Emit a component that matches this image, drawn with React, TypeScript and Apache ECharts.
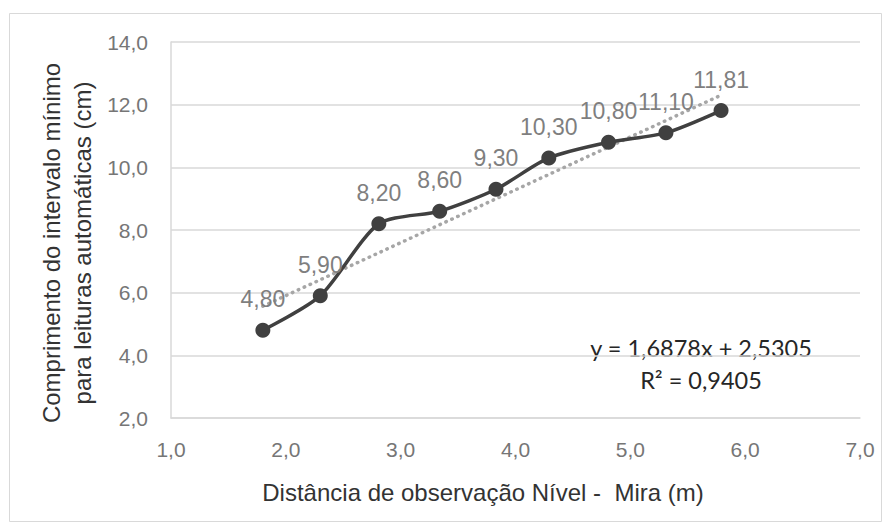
import React, { useEffect, useRef } from "react";
import * as echarts from "echarts";

const distances = [1.8, 2.3, 2.81, 3.34, 3.83, 4.29, 4.81, 5.31, 5.79];
const lengths = [4.8, 5.9, 8.2, 8.6, 9.3, 10.3, 10.8, 11.1, 11.81];
const lengthLabels = ["4,80", "5,90", "8,20", "8,60", "9,30", "10,30", "10,80", "11,10", "11,81"];
const TREND_SLOPE = 1.6878;
const TREND_INTERCEPT = 2.5305;
const equationLines = ["y = 1,6878x + 2,5305", "R² = 0,9405"];
const xAxisTitle = "Distância de observação Nível -  Mira (m)";
const yAxisTitle = ["Comprimento do intervalo mínimo", "para leituras automáticas (cm)"];

const fmt = (v: number) => v.toFixed(1).replace(".", ",");

export default function App() {
  const ref = useRef<HTMLDivElement>(null);
  useEffect(() => {
    if (!ref.current) return;
    const chart = echarts.init(ref.current, null, { renderer: "svg" });
    const xMin = Math.min(...distances);
    const xMax = Math.max(...distances);
    const trend = [
      [xMin, TREND_SLOPE * xMin + TREND_INTERCEPT],
      [xMax, TREND_SLOPE * xMax + TREND_INTERCEPT],
    ];
    const points = distances.map((d, i) => [d, lengths[i]]);
    chart.setOption({
      animation: false,
      backgroundColor: "#ffffff",
      grid: { left: 171, right: 29, top: 42, bottom: 107, containLabel: false },
      xAxis: {
        type: "value",
        min: 1,
        max: 7,
        interval: 1,
        axisLine: { show: true, lineStyle: { color: "#d9d9d9", width: 1.5 } },
        axisTick: { show: false },
        splitLine: { show: false },
        axisLabel: {
          formatter: fmt,
          color: "#767676",
          fontSize: 21,
          fontFamily: "Liberation Sans",
          margin: 21,
        },
      },
      yAxis: {
        type: "value",
        min: 2,
        max: 14,
        interval: 2,
        axisLine: { show: true, lineStyle: { color: "#d9d9d9", width: 1.5 } },
        axisTick: { show: false },
        splitLine: { show: true, lineStyle: { color: "#d9d9d9", width: 1.5 } },
        axisLabel: {
          formatter: fmt,
          color: "#767676",
          fontSize: 21,
          fontFamily: "Liberation Sans",
          margin: 23,
        },
      },
      graphic: [
        {
          type: "rect",
          shape: { x: 9.5, y: 13.5, width: 872, height: 508 },
          style: { fill: "none", stroke: "#d9d9d9", lineWidth: 1 },
          z: -10,
          silent: true,
        },
        {
          type: "text",
          x: 67,
          y: 243,
          rotation: Math.PI / 2,
          style: {
            text: yAxisTitle.join("\n"),
            fill: "#333333",
            font: "24px 'Liberation Sans'",
            align: "center",
            verticalAlign: "middle",
            lineHeight: 31,
          },
        },
        {
          type: "text",
          x: 483,
          y: 492,
          style: {
            text: xAxisTitle,
            fill: "#333333",
            font: "24px 'Liberation Sans'",
            align: "center",
            verticalAlign: "middle",
          },
        },
        {
          type: "text",
          x: 701,
          y: 364,
          style: {
            text: equationLines.join("\n"),
            fill: "#262626",
            font: "23.5px Lato",
            align: "center",
            verticalAlign: "middle",
            lineHeight: 32,
          },
        },
      ],
      series: [
        {
          type: "line",
          data: trend,
          showSymbol: false,
          symbol: "none",
          lineStyle: { color: "#a6a6a6", width: 3.5, type: [0.5, 6], cap: "round" },
          z: 1,
          silent: true,
        },
        {
          type: "line",
          data: points,
          smooth: 0.25,
          symbol: "circle",
          symbolSize: 15,
          itemStyle: { color: "#404040" },
          lineStyle: { color: "#404040", width: 3.5 },
          z: 2,
          label: {
            show: true,
            position: "top",
            distance: 12,
            color: "#7f7f7f",
            fontSize: 23,
            fontFamily: "Liberation Sans",
            formatter: (p: any) => lengthLabels[p.dataIndex],
          },
        },
      ],
    });
    return () => chart.dispose();
  }, []);
  return (
    <div
      ref={ref}
      style={{ position: "fixed", left: 0, top: 0, width: 889, height: 525 }}
    />
  );
}
